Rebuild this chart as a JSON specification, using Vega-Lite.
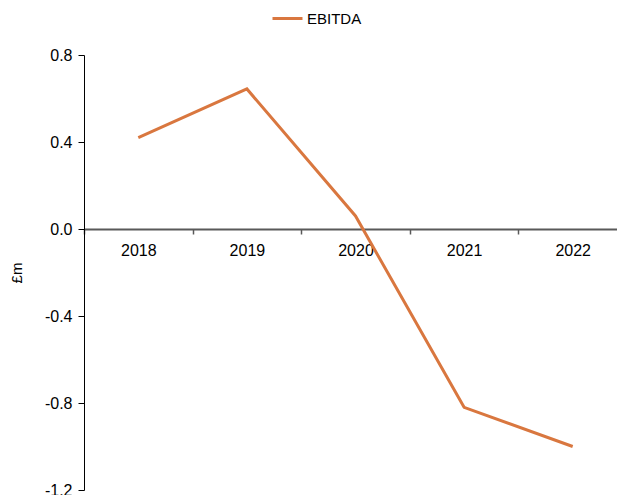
{
  "$schema": "https://vega.github.io/schema/vega-lite/v6.json",
  "width": 543,
  "height": 435,
  "autosize": "none",
  "padding": {"left": 84, "top": 55, "right": 0, "bottom": 5},
  "background": "white",
  "config": {
    "view": {"stroke": null},
    "font": "Liberation Sans",
    "axis": {"grid": false, "labelFont": "Liberation Sans", "titleFont": "Liberation Sans", "labelColor": "#000000", "titleColor": "#000000"}
  },
  "data": {
    "values": [
      {"year": "2018", "metric": "EBITDA", "value": 0.42},
      {"year": "2019", "metric": "EBITDA", "value": 0.644},
      {"year": "2020", "metric": "EBITDA", "value": 0.06},
      {"year": "2021", "metric": "EBITDA", "value": -0.82},
      {"year": "2022", "metric": "EBITDA", "value": -1.0}
    ]
  },
  "mark": {"type": "line", "strokeWidth": 3, "color": "#D9773F"},
  "encoding": {
    "x": {
      "field": "year",
      "type": "ordinal",
      "scale": {"type": "band", "paddingInner": 0, "paddingOuter": 0},
      "axis": {
        "title": null,
        "labelAngle": 0,
        "labelFontSize": 16,
        "labelPadding": 8,
        "offset": -261,
        "domainColor": "#595959",
        "domainWidth": 2,
        "tickColor": "#595959",
        "tickWidth": 1.5,
        "tickSize": 5,
        "tickBand": "extent",
        "ticks": true
      }
    },
    "y": {
      "field": "value",
      "type": "quantitative",
      "scale": {"domain": [-1.2, 0.8], "nice": false, "zero": false},
      "axis": {
        "title": "£m",
        "titleFontSize": 15,
        "titleFontWeight": "normal",
        "titlePadding": 20,
        "values": [-1.2, -0.8, -0.4, 0, 0.4, 0.8],
        "format": ".1f",
        "labelExpr": "replace(datum.label, '−', '-')",
        "labelFontSize": 16,
        "labelPadding": 6,
        "domainColor": "#000000",
        "tickColor": "#000000",
        "tickSize": 6
      }
    },
    "stroke": {
      "field": "metric",
      "type": "nominal",
      "scale": {"range": ["#D9773F"]},
      "legend": {
        "title": null,
        "orient": "none",
        "legendX": 187,
        "legendY": -53,
        "symbolType": "stroke",
        "symbolStrokeWidth": 3,
        "symbolSize": 900,
        "labelOffset": 3,
        "labelFontSize": 15,
        "labelFont": "Liberation Sans"
      }
    }
  }
}
